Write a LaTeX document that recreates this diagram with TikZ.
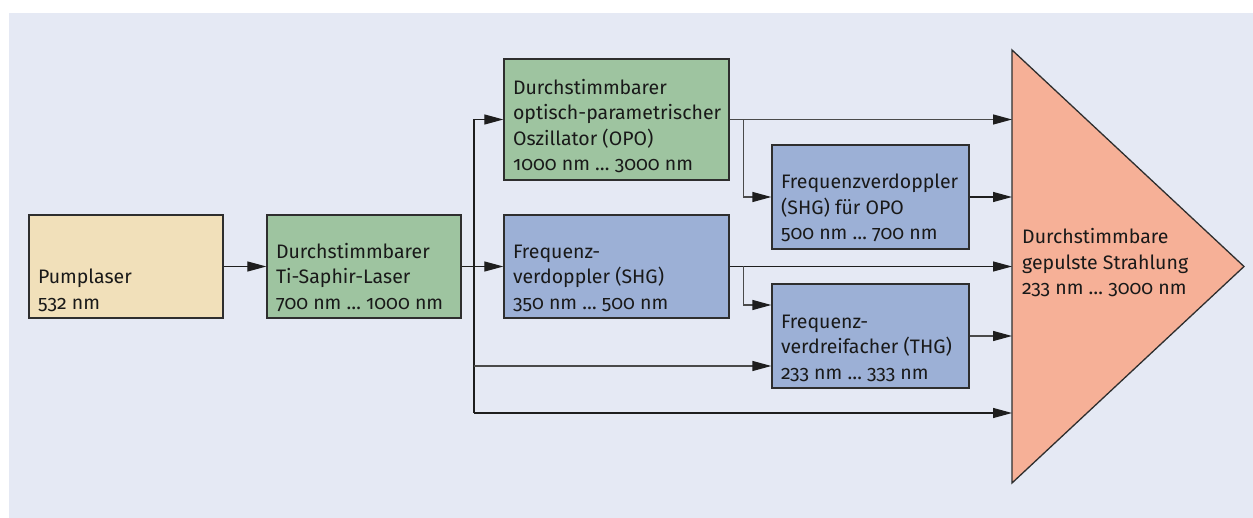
\documentclass[tikz,border=0pt]{standalone}
\usepackage{fontspec}
\setmainfont{Fira Sans}[Numbers=OldStyle]
\usetikzlibrary{arrows.meta}
\definecolor{bgc}{HTML}{E5E9F4}
\definecolor{pumpc}{HTML}{F1E0BA}
\definecolor{greenc}{HTML}{9EC4A0}
\definecolor{bluec}{HTML}{9CB0D6}
\definecolor{salmonc}{HTML}{F6B097}
\definecolor{linec}{HTML}{1E1E1E}
\definecolor{grayl}{HTML}{4A4A4A}
\definecolor{boxl}{HTML}{2E2E2E}
\begin{document}
\begin{tikzpicture}[x=1pt,y=-1pt,
  font=\fontsize{19.5}{25.5}\selectfont,
  box/.style={draw=boxl, line width=1.3pt, inner sep=0pt, rectangle},
  txt/.style={anchor=base west, align=left, inner sep=0pt, text=black!90},
  arr/.style={draw=linec, line width=1.2pt, -{Triangle[length=19pt,width=10pt]}},
  garr/.style={draw=grayl, line width=1.3pt, -{Triangle[length=19pt,width=10pt,color=linec]}},
  bline/.style={draw=linec, line width=1.2pt}]
\useasboundingbox (0,0) rectangle (1253,518);
\fill[bgc] (9,13) rectangle (1253,518);

% boxes
\node[box, fill=pumpc, minimum width=194pt, minimum height=103pt] (pump) at (126,266.5) {};
\node[box, fill=greenc, minimum width=194pt, minimum height=103pt] (ti) at (364,266.5) {};
\node[box, fill=greenc, minimum width=225pt, minimum height=121pt] (opo) at (616.5,119.5) {};
\node[box, fill=bluec, minimum width=225pt, minimum height=103pt] (shg) at (616.5,266.5) {};
\node[box, fill=bluec, minimum width=197pt, minimum height=104pt] (shgopo) at (870.5,197) {};
\node[box, fill=bluec, minimum width=197pt, minimum height=104pt] (thg) at (870.5,336) {};

% triangle
\coordinate (triT) at (1012,50);
\coordinate (triB) at (1012,483);
\coordinate (triR) at (1244,266.5);
\coordinate (triM) at (1012,266.5);
\draw[draw=boxl, line width=1.3pt, fill=salmonc, line join=miter] (triT) -- (triR) -- (triB) -- cycle;

% texts
\node[txt] (tpump) at ([shift={(9.5,-9.5)}]pump.south west) {Pumplaser\\532 nm};
\node[txt] (tti) at ([shift={(9.5,-9.5)}]ti.south west) {Durchstimmbarer\\Ti-Saphir-Laser\\700 nm … 1000 nm};
\node[txt] (topo) at ([shift={(9.5,-10)}]opo.south west) {Durchstimmbarer\\optisch-parametrischer\\Oszillator (OPO)\\1000 nm … 3000 nm};
\node[txt] (tshg) at ([shift={(9.5,-9.5)}]shg.south west) {Frequenz-\\verdoppler (SHG)\\350 nm … 500 nm};
\node[txt] (tshgopo) at ([shift={(9.5,-10)}]shgopo.south west) {Frequenzverdoppler\\(SHG) für OPO\\500 nm … 700 nm};
\node[txt] (tthg) at ([shift={(9.5,-9.5)}]thg.south west) {Frequenz-\\verdreifacher (THG)\\233 nm … 333 nm};
\node[txt] (ttri) at ([shift={(10,28.5)}]triM) {Durchstimmbare\\gepulste Strahlung\\233 nm … 3000 nm};

% connectors
\coordinate (vx) at (474,266.5);
\coordinate (bot) at (474,413);
\draw[arr] (pump) -- (ti);
\draw[arr] (ti.east) -- (shg.west);
\draw[arr] (vx) |- (opo.west);
\draw[bline] (vx) -- (bot);
\draw[arr] (bot) -- (bot -| triT);
\draw[garr] (vx |- thg.west) ++(0,30) coordinate (thgin) -- (thgin -| thg.west);
\draw[garr] (opo.east) -- (opo.east -| triT);
\draw[garr] ([xshift=14pt]opo.east) |- (shgopo.west);
\draw[arr] (shgopo.east) -- (shgopo.east -| triT);
\draw[arr] (shg.east) -- (shg.east -| triT);
\draw[garr] ([xshift=14pt]shg.east) |- ([yshift=31pt]thg.west);
\draw[garr] (thg.east) -- (thg.east -| triT);
\end{tikzpicture}
\end{document}
